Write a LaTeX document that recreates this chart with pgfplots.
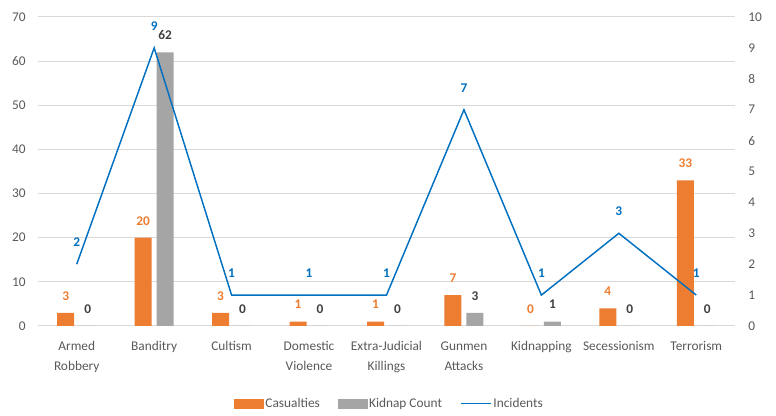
\documentclass[border=0pt]{standalone}
\usepackage{pgfplots}
\pgfplotsset{compat=1.18}
\usepackage{fontspec}
\setmainfont{Carlito}
\definecolor{orangeC}{HTML}{ED7D31}
\definecolor{grayC}{HTML}{A5A5A5}
\definecolor{blueC}{HTML}{0070C0}
\definecolor{tickC}{HTML}{595959}
\definecolor{gridC}{HTML}{D9D9D9}
\definecolor{darkC}{HTML}{404040}
\begin{document}
\begin{tikzpicture}
\begin{axis}[
  name=main,
  scale only axis, width=522.75pt, height=231.75pt,
  xmin=-0.5, xmax=8.5, ymin=0, ymax=70,
  ytick={0,10,...,70},
  xtick={0,...,8},
  xticklabels={{Armed\\Robbery},Banditry,Cultism,{Domestic\\Violence},{Extra-Judicial\\Killings},{Gunmen\\Attacks},Kidnapping,Secessionism,Terrorism},
  xticklabel style={align=center, font=\fontsize{10}{15}\selectfont, text=tickC, anchor=north, yshift=-8pt},
  yticklabel style={font=\fontsize{10}{12}\selectfont, text=tickC, xshift=-5.7pt},
  /pgf/number format/assume math mode=true,
  axis line style={draw=none},
  major tick length=0pt,
  ymajorgrids, grid style={gridC, line width=0.75pt},
  clip=false,
]
\addplot[ybar, bar width=12.75pt, bar shift=-8.25pt, fill=orangeC, draw=none,
  nodes near coords,
  every node near coord/.append style={font=\bfseries\fontsize{10}{12}\selectfont, text=orangeC, anchor=center, xshift=-8.25pt, yshift=12.75pt}]
  coordinates {(0,3) (1,20) (2,3) (3,1) (4,1) (5,7) (6,0) (7,4) (8,33)};
\addplot[ybar, bar width=12.75pt, bar shift=8.25pt, fill=grayC, draw=none,
  nodes near coords,
  every node near coord/.append style={font=\bfseries\fontsize{10}{12}\selectfont, text=darkC, anchor=center, xshift=8.25pt, yshift=12.75pt}]
  coordinates {(0,0) (1,62) (2,0) (3,0) (4,0) (5,3) (6,1) (7,0) (8,0)};
\end{axis}
\begin{axis}[
  scale only axis, width=522.75pt, height=231.75pt,
  xmin=-0.5, xmax=8.5, ymin=0, ymax=10,
  axis y line*=right, axis x line=none,
  ytick={0,...,10},
  yticklabel style={font=\fontsize{10}{12}\selectfont, text=tickC, xshift=6.4pt},
  /pgf/number format/assume math mode=true,
  axis line style={draw=none},
  major tick length=0pt,
  clip=false,
  legend columns=3,
  legend style={at={(0.5,0)}, anchor=center, yshift=-58.3pt, xshift=2.25pt, draw=none, fill=none,
    font=\fontsize{10}{12}\selectfont, text=tickC,
    /tikz/every even column/.append style={column sep=12pt},
    nodes={inner sep=1.5pt}},
]
\addlegendimage{legend image code/.code={\fill[orangeC] (0pt,-3.25pt) rectangle (21.5pt,3.25pt);}}
\addlegendentry{Casualties}
\addlegendimage{legend image code/.code={\fill[grayC] (0pt,-3.25pt) rectangle (21.5pt,3.25pt);}}
\addlegendentry{Kidnap Count}
\addplot[blueC, line width=1.1pt, mark=none,
  legend image code/.code={\draw[blueC, line width=1.1pt] (0pt,0pt) -- (22.5pt,0pt);},
  nodes near coords,
  every node near coord/.append style={font=\bfseries\fontsize{10}{12}\selectfont, text=blueC, anchor=center, yshift=16.5pt}]
  coordinates {(0,2) (1,9) (2,1) (3,1) (4,1) (5,7) (6,1) (7,3) (8,1)};
\addlegendentry{Incidents}
\end{axis}
\pgfresetboundingbox
\path[use as bounding box] ([xshift=-28.5pt,yshift=-67.5pt]main.south west) rectangle ([xshift=30.75pt,yshift=12.75pt]main.north east);
\end{tikzpicture}
\end{document}
